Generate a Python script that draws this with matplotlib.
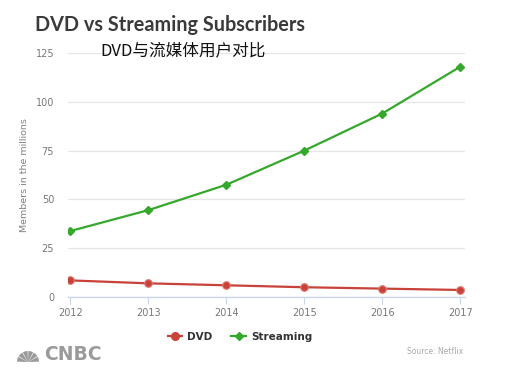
import matplotlib
matplotlib.use("Agg")
import matplotlib.pyplot as plt
from matplotlib.lines import Line2D
from matplotlib.patches import Wedge

years = [2012, 2013, 2014, 2015, 2016, 2017]
dvd = [8.5, 7.0, 6.0, 5.0, 4.3, 3.6]
streaming = [33.8, 44.5, 57.5, 75.0, 94.0, 118.0]
yticks = [0, 25, 50, 75, 100, 125]

red = "#c8423a"
green = "#35a82c"

fig = plt.figure(figsize=(5.25, 3.69), dpi=100)
ax = fig.add_axes([68/525, 1-297/369, (465-68)/525, (297-53)/369])

ax.plot(years, dvd, color=red, lw=1.6, marker="o", ms=5.5, mfc=red, mec="#e07a72", mew=0.8, zorder=3)
ax.plot(years, streaming, color=green, lw=1.6, marker="D", ms=3.6, mfc=green, mec=green, zorder=3)

ax.set_xlim(2011.97, 2017.06)
ax.set_ylim(0, 125)
ax.set_yticks(yticks)
ax.set_xticks(years)
ax.set_xticklabels([str(y) for y in years])
for s in ["top", "right", "left"]:
    ax.spines[s].set_visible(False)
ax.spines["bottom"].set_color("#ccd6eb")
ax.spines["bottom"].set_linewidth(1)
ax.grid(axis="y", color="#e6e6e6", lw=0.9)
ax.set_axisbelow(True)
ax.tick_params(axis="y", length=0, labelsize=7, labelcolor="#777777", pad=10)
ax.tick_params(axis="x", length=5, color="#ccd6eb", labelsize=7, labelcolor="#777777", pad=3)
ax.set_ylabel("Members in the millions", fontsize=6.8, color="#808080")
ax.yaxis.set_label_coords((29 - 68) / (465 - 68), (297 - 175) / (297 - 53))

fig.text(35/525, 1-25/369, "DVD vs Streaming Subscribers", fontsize=14.3, fontweight="bold",
         color="#3a3a3a", va="center", ha="left", family="Lato")
fig.text(100/525, 1-51/369, "DVD与流媒体用户对比", fontsize=12, color="#111111",
         va="center", ha="left", family=["Noto Sans CJK SC", "DejaVu Sans"])

handles = [Line2D([0], [0], color=red, lw=1.6, marker="o", ms=5.5, mfc=red, mec=red),
           Line2D([0], [0], color=green, lw=1.6, marker="D", ms=3.6, mfc=green, mec=green)]
fig.legend(handles, ["DVD", "Streaming"], loc="center", bbox_to_anchor=(240/525, 1-337/369),
           ncol=2, frameon=False, handlelength=1.4, handletextpad=0.5,
           columnspacing=1.8, prop={"weight": "bold", "size": 7.5})
for t in fig.legends[0].get_texts():
    t.set_color("#333333")

# CNBC peacock-style mark
lax = fig.add_axes([17/525, 1-363/369, 22/525, 16/369])
lax.set_xlim(-1.1, 1.1)
lax.set_ylim(-0.1, 1.5)
lax.axis("off")
for i in range(6):
    a0 = 180 - i * 30
    lax.add_patch(Wedge((0, 0), 1.1, a0 - 28, a0 - 2, facecolor="#9a9a9a", edgecolor="none"))
fig.text(44/525, 1-355/369, "CNBC", fontsize=13.5, fontweight="heavy", color="#9a9a9a",
         va="center", ha="left", family="DejaVu Sans")
fig.text(463/525, 1-352/369, "Source: Netflix", fontsize=5.5, color="#aaaaaa",
         va="center", ha="right")

fig.savefig("out.png", dpi=100, facecolor="white")
